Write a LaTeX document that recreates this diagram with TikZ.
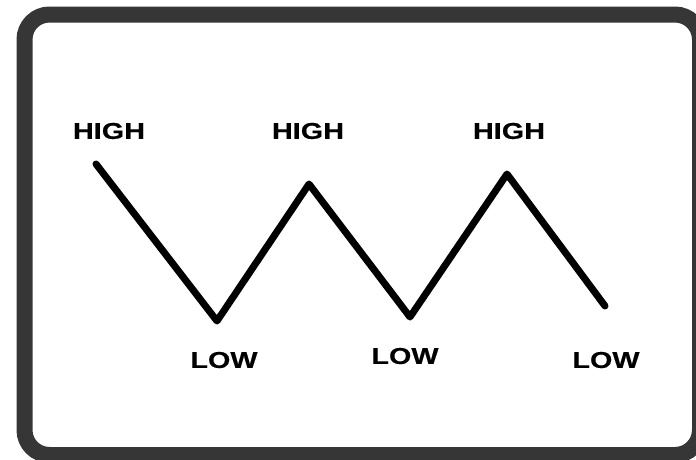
\documentclass[tikz,border=0pt]{standalone}
\usepackage{fontspec}
\usepackage{xcolor}
\usepackage{tikz}
\usetikzlibrary{positioning}
\newfontfamily\lblfont[FakeStretch=1.25,FakeBold=0.4]{Liberation Sans Bold}
\definecolor{framegray}{HTML}{363636}
\tikzset{
  level label/.style = {font=\lblfont\fontsize{23}{26}\selectfont, inner sep=0pt,
                        anchor=center, text=black},
  zig line/.style    = {line width=7pt, line join=round, line cap=round, black},
  frame box/.style   = {draw=framegray, line width=16pt, rounded corners=25pt},
}
\begin{document}
\begin{tikzpicture}[x=1pt, y=-1pt]
  \useasboundingbox (0,0) rectangle (696,459);
  \fill[white] (0,0) rectangle (696,459);

  % outer frame, cut off at right and bottom
  \draw[frame box] (24.5,14.5) rectangle (700,455);

  % turning points of the zigzag
  \coordinate (p0) at (96,164);
  \coordinate (p1) at (217,321);
  \coordinate (p2) at (309,184);
  \coordinate (p3) at (410,317);
  \coordinate (p4) at (507,174);
  \coordinate (p5) at (605,306);

  \draw[zig line] (p0) -- (p1) -- (p2) -- (p3) -- (p4) -- (p5);

  \node[level label] (high1) at (109,131) {HIGH};
  \node[level label] (high2) at (308,131) {HIGH};
  \node[level label] (high3) at (509,131) {HIGH};
  \node[level label] (low1)  at (224,360) {LOW};
  \node[level label] (low2)  at (405,356) {LOW};
  \node[level label] (low3)  at (606,360) {LOW};
\end{tikzpicture}
\end{document}
